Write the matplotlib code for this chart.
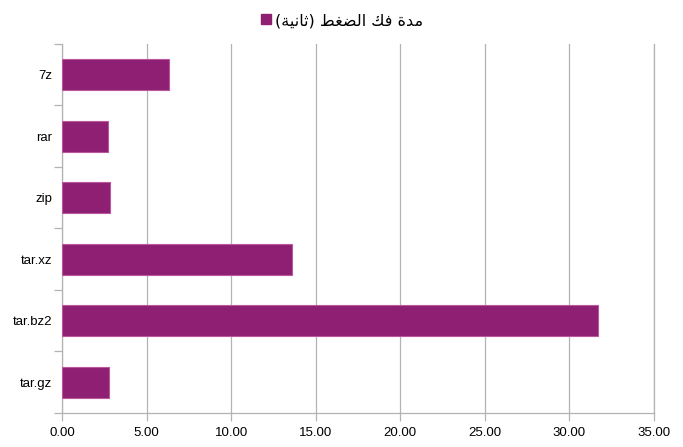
import numpy as np
import matplotlib.pyplot as plt
from matplotlib.lines import Line2D

# data
categories = ["tar.gz", "tar.bz2", "tar.xz", "zip", "rar", "7z"]
seconds = [2.76, 31.68, 13.62, 2.83, 2.74, 6.33]
series_label = "مدة فك الضغط (ثانية)"
xticks = [0, 5, 10, 15, 20, 25, 30, 35]

bar_color = "#8e1f72"
grid_color = "#b3b3b3"

# matplotlib does no arabic shaping, so do it by hand for the letters used
# (isolated, final, initial, medial)
FORMS = {
    'ا': ('\uFE8D', '\uFE8E', None, None),
    'د': ('\uFEA9', '\uFEAA', None, None),
    'ة': ('\uFE93', '\uFE94', None, None),
    'م': ('\uFEE1', '\uFEE2', '\uFEE3', '\uFEE4'),
    'ف': ('\uFED1', '\uFED2', '\uFED3', '\uFED4'),
    'ك': ('\uFED9', '\uFEDA', '\uFEDB', '\uFEDC'),
    'ل': ('\uFEDD', '\uFEDE', '\uFEDF', '\uFEE0'),
    'ض': ('\uFEBD', '\uFEBE', '\uFEBF', '\uFEC0'),
    'غ': ('\uFECD', '\uFECE', '\uFECF', '\uFED0'),
    'ط': ('\uFEC1', '\uFEC2', '\uFEC3', '\uFEC4'),
    'ث': ('\uFE99', '\uFE9A', '\uFE9B', '\uFE9C'),
    'ن': ('\uFEE5', '\uFEE6', '\uFEE7', '\uFEE8'),
    'ي': ('\uFEF1', '\uFEF2', '\uFEF3', '\uFEF4'),
}


def shape_rtl(s):
    out = []
    for i, c in enumerate(s):
        if c not in FORMS:
            out.append(c)
            continue
        prev = s[i - 1] if i > 0 else ''
        nxt = s[i + 1] if i + 1 < len(s) else ''
        jp = prev in FORMS and FORMS[prev][2] is not None
        jn = nxt in FORMS and FORMS[c][2] is not None
        iso, fin, ini, med = FORMS[c]
        if jp and jn:
            out.append(med)
        elif jp:
            out.append(fin)
        elif jn:
            out.append(ini)
        else:
            out.append(iso)
    mirror = {'(': ')', ')': '('}
    return ''.join(mirror.get(c, c) for c in reversed(out))


plt.rcParams['font.family'] = ['Liberation Sans', 'DejaVu Sans']

fig = plt.figure(figsize=(6.83, 4.47), dpi=100)
ax = fig.add_axes([0.0908, 0.0761, 0.8667, 0.8255])

y = np.arange(len(categories))
ax.barh(y, seconds, height=0.5, color=bar_color, edgecolor="#b9579f", linewidth=0.8, zorder=3)

ax.set_xlim(0, 35)
ax.set_ylim(-0.5, len(categories) - 0.5)
ax.set_xticks(xticks)
ax.set_xticklabels([f"{v:.2f}" for v in xticks], fontsize=9.5)
ax.set_yticks(y)
ax.set_yticklabels(categories, fontsize=9.5)
ax.set_yticks(np.arange(-0.5, len(categories), 1), minor=True)

ax.xaxis.grid(True, color=grid_color, linewidth=0.9, zorder=0)
ax.tick_params(axis='x', length=6, color=grid_color, width=0.9, pad=4)
ax.tick_params(axis='y', which='major', length=0, pad=7)
ax.tick_params(axis='y', which='minor', length=6, color=grid_color, width=0.9)

ax.spines['top'].set_visible(False)
for side in ['left', 'bottom', 'right']:
    ax.spines[side].set_color(grid_color)
    ax.spines[side].set_linewidth(0.9)

handle = Line2D([], [], marker='s', linestyle='none', markersize=7,
                markerfacecolor=bar_color, markeredgecolor=bar_color)
leg = fig.legend([handle], [shape_rtl(series_label)], loc='upper center',
                 bbox_to_anchor=(0.5, 1.003), frameon=False, handlelength=0.8,
                 handletextpad=0.2, prop={'family': 'DejaVu Sans', 'size': 11.5})

fig.savefig("out.png", dpi=100)
